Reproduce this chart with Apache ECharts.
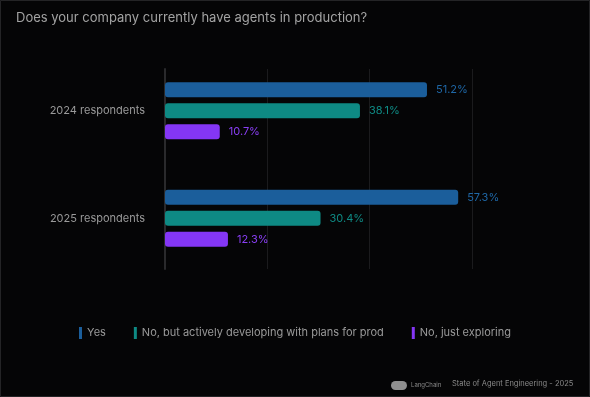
<!DOCTYPE html>
<html>
<head>
<meta charset="utf-8">
<script src="https://cdn.jsdelivr.net/npm/echarts@6/dist/echarts.min.js"></script>
<style>
html,body{margin:0;padding:0;background:#050506;}
#c{width:590px;height:397px;}
</style>
</head>
<body>
<div id="c"></div>
<script>
var categories = ['2024 respondents', '2025 respondents'];
var seriesNames = ['Yes', 'No, but actively developing with plans for prod', 'No, just exploring'];
var yesValues = [51.2, 57.3];
var developingValues = [38.1, 30.4];
var exploringValues = [10.7, 12.3];
var xTicks = [0, 20, 40, 60];

var colors = ['#1b5e9b', '#0e8a84', '#8436f5'];
var labelColors = ['#1f67a6', '#0f8a84', '#8a3ff5'];
var FONT = 'Inter, "Noto Sans", sans-serif';

var chart = echarts.init(document.getElementById('c'), null, {renderer: 'canvas'});

function mk(name, data, i) {
  return {
    name: name,
    type: 'bar',
    xAxisIndex: 1,
    yAxisIndex: 1,
    data: data,
    barWidth: 15,
    barGap: '40%',
    itemStyle: {color: colors[i], borderRadius: 3},
    label: {
      show: true,
      position: 'right',
      distance: 9,
      color: labelColors[i],
      fontFamily: FONT,
      fontSize: 11,
      formatter: function (p) { return p.value.toFixed(1) + '%'; }
    }
  };
}

chart.setOption({
  backgroundColor: '#050506',
  animation: false,
  title: {
    text: 'Does your company currently have agents in production?',
    left: 11,
    top: 7,
    textStyle: {color: '#a3a3a3', fontFamily: FONT, fontSize: 13, fontWeight: 'normal'}
  },
  legend: {
    bottom: 53,
    left: 'center',
    itemWidth: 3,
    itemHeight: 12,
    itemGap: 28,
    icon: 'rect',
    textStyle: {color: '#9a9a9a', fontFamily: FONT, fontSize: 11},
    data: seriesNames
  },
  grid: [
    {left: 165, right: 118, top: 69, height: 200},
    {left: 165, right: 118, top: 57, height: 215}
  ],
  xAxis: [
    {
      gridIndex: 0, type: 'value', min: xTicks[0], max: xTicks[xTicks.length - 1], interval: 20,
      axisLabel: {show: false}, axisLine: {show: false}, axisTick: {show: false},
      splitLine: {show: true, lineStyle: {color: '#1b1b1d', width: 1}}
    },
    {
      gridIndex: 1, type: 'value', min: xTicks[0], max: xTicks[xTicks.length - 1], interval: 20,
      show: false
    }
  ],
  yAxis: [
    {
      gridIndex: 0, type: 'category', data: categories, inverse: true,
      axisLabel: {show: false}, axisTick: {show: false},
      axisLine: {show: true, lineStyle: {color: '#2a2a2c', width: 2}}
    },
    {
      gridIndex: 1, type: 'category', data: categories, inverse: true,
      axisLine: {show: false}, axisTick: {show: false},
      axisLabel: {color: '#9a9a9a', fontFamily: FONT, fontSize: 11, margin: 20}
    }
  ],
  graphic: [
    {type: 'rect', shape: {x: 0.5, y: 0.5, width: 589, height: 396}, style: {fill: 'none', stroke: '#242426', lineWidth: 1}, silent: true},
    {type: 'rect', shape: {x: 391, y: 381, width: 16, height: 9, r: 4.5}, style: {fill: '#8f8f8f'}},
    {type: 'text', left: 411, top: 382, style: {text: 'LangChain', fill: '#8a8a8a', font: '6px ' + FONT}},
    {type: 'text', left: 452, top: 380, style: {text: 'State of Agent Engineering - 2025', fill: '#8a8a8a', font: '7.5px ' + FONT}}
  ],
  series: [
    mk(seriesNames[0], yesValues, 0),
    mk(seriesNames[1], developingValues, 1),
    mk(seriesNames[2], exploringValues, 2)
  ]
});
</script>
</body>
</html>
